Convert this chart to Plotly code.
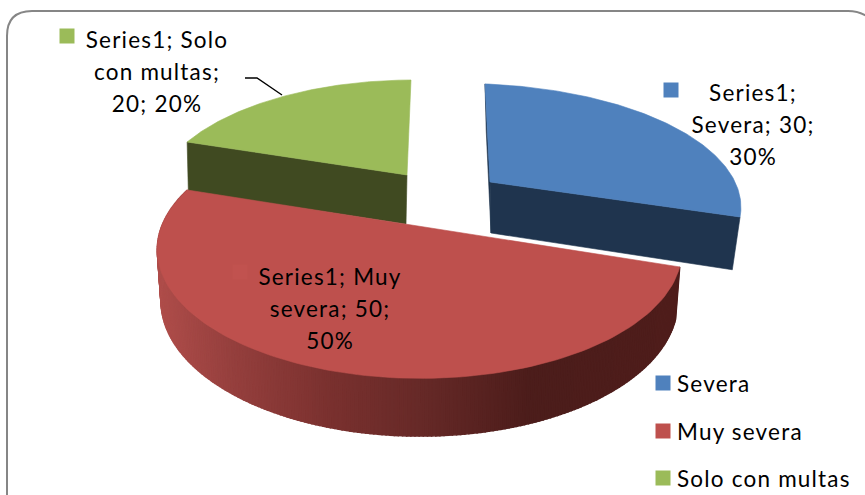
import numpy as np
import plotly.graph_objects as go

# ---- data ----
series_name = "Series1"
categories = ["Severa", "Muy severa", "Solo con multas"]
values = [30, 50, 20]
percents = ["30%", "50%", "20%"]
label_lines = [
    ["Series1;", "Severa; 30;", "30%"],
    ["Series1; Muy", "severa; 50;", "50%"],
    ["Series1; Solo", "con multas;", "20; 20%"],
]

# ---- styles ----
FONT = "Lato"
FONT_SIZE = 22.5
LETTER_SPACING = "1.2px"
TOP = ["#4F81BD", "#BE504D", "#9BBB59"]
WALL = ["#1F344E", "#4D1D1B", "#404A21"]
KEY = ["#4F81BD", "#C1524F", "#9BBB59"]

# Projection of each exploded slice (apex in px, perspective terms)
PROJ = [
    dict(ax=490, ay=182, A=272, S=-6, B=118, k=.203, m=.11, dy=51, xs=.965, ys=1.05, dx=1),
    dict(ax=405, ay=224, A=256, S=2, B=122.8, k=.203, m=-.056, dy=50, xs=.985, ys=1.05, dx=0),
    dict(ax=407, ay=175, A=249, S=4.8, B=114.3, k=.203, m=-.008, dy=49, xs=.99, ys=1.0, dx=-1),
]
LABEL_POS = [(753, 95), (330, 279), (157, 42)]
KEY_POS = [(671, 90), (240, 272), (67, 36)]
LEGEND_X, LEGEND_YS = 663, [383, 431, 478]

v = np.array(values, float)
edges = np.concatenate([[0], np.cumsum(v) / v.sum() * 2 * np.pi])


def top_xy(p, t):
    w = 1 + p["k"] * np.cos(t) + p["m"] * np.sin(t)
    return (p["A"] * np.sin(t) + p["S"] * np.cos(t)) / w, -p["B"] * np.cos(t) / w


def top_pt(p, t):
    x, y = top_xy(p, t)
    return p["ax"] + x, p["ay"] + y


def bot_pt(p, t):
    x, y = top_xy(p, t)
    return p["ax"] + p["dx"] + x * p["xs"], p["ay"] + p["dy"] + y * p["ys"]


def apex_bot(p):
    return p["ax"] + p["dx"], p["ay"] + p["dy"]


def poly(fig, xs, ys, color, lw=0.6):
    fig.add_trace(go.Scatter(x=list(xs), y=list(ys), mode="lines", fill="toself",
                             fillcolor=color, line=dict(color=color, width=lw),
                             hoverinfo="skip", showlegend=False))


def cut_wall(fig, i, t):
    p = PROJ[i]
    x0, y0 = top_pt(p, t)
    x1, y1 = bot_pt(p, t)
    ax, ay = apex_bot(p)
    poly(fig, [p["ax"], x0, x1, ax, p["ax"]], [p["ay"], y0, y1, ay, p["ay"]], WALL[i])


def top_face(fig, i):
    p = PROJ[i]
    ts = np.linspace(edges[i], edges[i + 1], 120)
    x, y = top_pt(p, ts)
    poly(fig, np.r_[p["ax"], x, p["ax"]], np.r_[p["ay"], y, p["ay"]], TOP[i])


def red_shade(x):
    stops_x = [155, 230, 330, 420, 530, 700]
    stops = np.array([[176, 78, 75], [150, 64, 62], [122, 49, 47], [103, 42, 40], [76, 29, 27], [80, 30, 28]])
    c = [np.interp(x, stops_x, stops[:, j]) for j in range(3)]
    return "rgb(%d,%d,%d)" % tuple(c)


fig = go.Figure()

# Green slice (back left)
cut_wall(fig, 2, edges[2])
top_face(fig, 2)

# Blue slice (back right)
cut_wall(fig, 0, edges[1])
cut_wall(fig, 0, edges[0])
top_face(fig, 0)

# Red slice: outer wall in overlapping strips, then the top
p = PROJ[1]
ts = np.linspace(edges[1], edges[2], 241)
for a, b in zip(ts[:-1], ts[1:]):
    xa, ya = top_pt(p, a)
    xb, yb = top_pt(p, b)
    xc, yc = bot_pt(p, b)
    xd, yd = bot_pt(p, a)
    poly(fig, [xa, xb, xc, xd, xa], [ya, yb, yc, yd, ya], red_shade((xa + xb) / 2), lw=1.5)
top_face(fig, 1)

# Leader line of the green label
fig.add_trace(go.Scatter(x=[245, 257, 282], y=[78, 78, 95], mode="lines",
                         line=dict(color="#000000", width=1.4),
                         hoverinfo="skip", showlegend=False))

# Data labels with their key squares
for i, lines in enumerate(label_lines):
    lx, ly = LABEL_POS[i]
    fig.add_trace(go.Scatter(
        x=[lx] * len(lines), y=[ly + 32 * n for n in range(len(lines))],
        mode="text", text=lines, textposition="middle center",
        textfont=dict(family=FONT, size=FONT_SIZE, color="#000000"),
        hoverinfo="skip", showlegend=False))
    fig.add_trace(go.Scatter(x=[KEY_POS[i][0]], y=[KEY_POS[i][1]], mode="markers",
                             marker=dict(symbol="square", size=15, color=KEY[i], line=dict(width=0)),
                             hoverinfo="skip", showlegend=False))

# Legend
for i, name in enumerate(categories):
    fig.add_trace(go.Scatter(x=[LEGEND_X], y=[LEGEND_YS[i]], mode="markers",
                             marker=dict(symbol="square", size=15, color=TOP[i], line=dict(width=0)),
                             hoverinfo="skip", showlegend=False))
    fig.add_trace(go.Scatter(x=[LEGEND_X + 14], y=[LEGEND_YS[i] + 3], mode="text", text=[name],
                             textposition="middle right",
                             textfont=dict(family=FONT, size=FONT_SIZE, color="#000000"),
                             hoverinfo="skip", showlegend=False))

fig.update_layout(
    width=865, height=495, autosize=False,
    margin=dict(l=0, r=0, t=0, b=0),
    paper_bgcolor="#FFFFFF", plot_bgcolor="#FFFFFF",
    xaxis=dict(range=[0, 865], visible=False, fixedrange=True),
    yaxis=dict(range=[495, 0], visible=False, fixedrange=True),
    shapes=[dict(type="path", xref="x", yref="y", layer="below",
                 path="M 7 500 L 7 36 Q 7 11 32 11 L 848 11 Q 868 11 880 30",
                 line=dict(color="#868686", width=2))],
)
post = ("document.body.style.margin='0';document.body.style.overflow='hidden';"
        "document.querySelectorAll('.textpoint text').forEach(function(t){t.style.letterSpacing='%s';});"
        % LETTER_SPACING)
fig.write_html("out.html", config=dict(displayModeBar=False), post_script=post)
